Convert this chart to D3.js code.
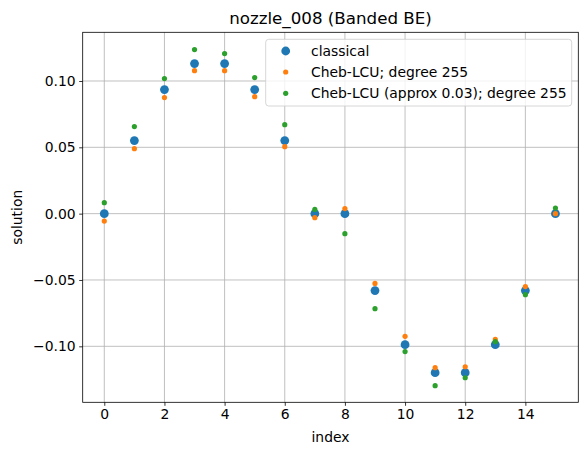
<!DOCTYPE html>
<html>
<head>
<meta charset="utf-8">
<script src="https://cdn.jsdelivr.net/npm/d3@7"></script>
<style>
  html, body { margin: 0; padding: 0; background: #fff; }
  svg { display: block; font-family: "DejaVu Sans", sans-serif; }
</style>
</head>
<body>
<svg id="chart" width="587" height="455"></svg>
<script>
const indices = d3.range(16);
const classical = [0.0, 0.0551, 0.0935, 0.1131, 0.1131, 0.0935, 0.0551, 0.0, 0.0, -0.0580, -0.0988, -0.1199, -0.1199, -0.0988, -0.0580, 0.0];
const chebLCU = [-0.0056, 0.0490, 0.0875, 0.1078, 0.1078, 0.0882, 0.0505, -0.0030, 0.0038, -0.0526, -0.0925, -0.1161, -0.1154, -0.0948, -0.0550, 0.0];
const chebApprox = [0.0083, 0.0656, 0.1018, 0.1237, 0.1207, 0.1026, 0.0671, 0.0032, -0.0151, -0.0716, -0.1040, -0.1297, -0.1237, -0.0965, -0.0611, 0.0042];
const xTicks = [0, 2, 4, 6, 8, 10, 12, 14];
const yTicks = [-0.10, -0.05, 0.00, 0.05, 0.10];
const seriesNames = ["classical", "Cheb-LCU; degree 255", "Cheb-LCU (approx 0.03); degree 255"];
const seriesColors = ["#1f77b4", "#ff7f0e", "#2ca02c"];
const titleText = "nozzle_008 (Banded BE)";

const svg = d3.select("#chart");
const L = 82.7, R = 578.3, T = 32.3, B = 402.3;
const x = d3.scaleLinear().domain([-0.718, 15.76]).range([L, R]);
const y = d3.scaleLinear().domain([-0.1422, 0.1367]).range([B, T]);

// grid
const g = svg.append("g");
g.selectAll("line.vx").data(xTicks).join("line")
  .attr("x1", d => x(d)).attr("x2", d => x(d)).attr("y1", T).attr("y2", B)
  .attr("stroke", "#b0b0b0").attr("stroke-width", 0.8);
g.selectAll("line.hy").data(yTicks).join("line")
  .attr("y1", d => y(d)).attr("y2", d => y(d)).attr("x1", L).attr("x2", R)
  .attr("stroke", "#b0b0b0").attr("stroke-width", 0.8);

// axes
const xAxis = d3.axisBottom(x).tickValues(xTicks).tickSize(3.5).tickPadding(3.5).tickFormat(d3.format("d"));
const yAxis = d3.axisLeft(y).tickValues(yTicks).tickSize(3.5).tickPadding(3.5).tickFormat(d => d3.format(".2f")(d).replace("-", "\u2212"));
const xa = svg.append("g").attr("transform", `translate(0,${B})`).call(xAxis);
const ya = svg.append("g").attr("transform", `translate(${L},0)`).call(yAxis);
[xa, ya].forEach(a => {
  a.select(".domain").remove();
  a.selectAll("line").attr("stroke", "#000").attr("stroke-width", 0.8);
  a.selectAll("text").attr("fill", "#000").style("font-size", "13.9px").style("font-family", "DejaVu Sans");
});

// points
const pts = svg.append("g");
const data = [classical, chebLCU, chebApprox];
const radii = [4.4, 2.6, 2.6];
data.forEach((arr, k) => {
  pts.selectAll(null).data(indices).join("circle")
    .attr("cx", d => x(d)).attr("cy", d => y(arr[d])).attr("r", radii[k])
    .attr("fill", seriesColors[k]);
});

// frame
svg.append("rect").attr("x", L).attr("y", T).attr("width", R - L).attr("height", B - T)
  .attr("fill", "none").attr("stroke", "#000").attr("stroke-width", 0.8);

// title & labels
svg.append("text").attr("x", (L + R) / 2).attr("y", 24).attr("text-anchor", "middle")
  .style("font-size", "16.7px").text(titleText);
svg.append("text").attr("x", (L + R) / 2).attr("y", 442).attr("text-anchor", "middle")
  .style("font-size", "13.9px").text("index");
svg.append("text").attr("transform", `translate(22,${(T + B) / 2}) rotate(-90)`).attr("text-anchor", "middle")
  .style("font-size", "13.9px").text("solution");

// legend
const lg = svg.append("g");
lg.append("rect").attr("x", 265.7).attr("y", 39.3).attr("width", 306).attr("height", 66.7)
  .attr("rx", 3).attr("fill", "#fff").attr("fill-opacity", 0.8).attr("stroke", "#cccccc").attr("stroke-width", 0.8);
const rowY = [51, 72, 93.3];
seriesNames.forEach((name, k) => {
  lg.append("circle").attr("cx", 285.7).attr("cy", rowY[k]).attr("r", radii[k]).attr("fill", seriesColors[k]);
  lg.append("text").attr("x", 311).attr("y", rowY[k]).attr("dy", "0.35em")
    .style("font-size", "13.9px").text(name);
});
</script>
</body>
</html>
